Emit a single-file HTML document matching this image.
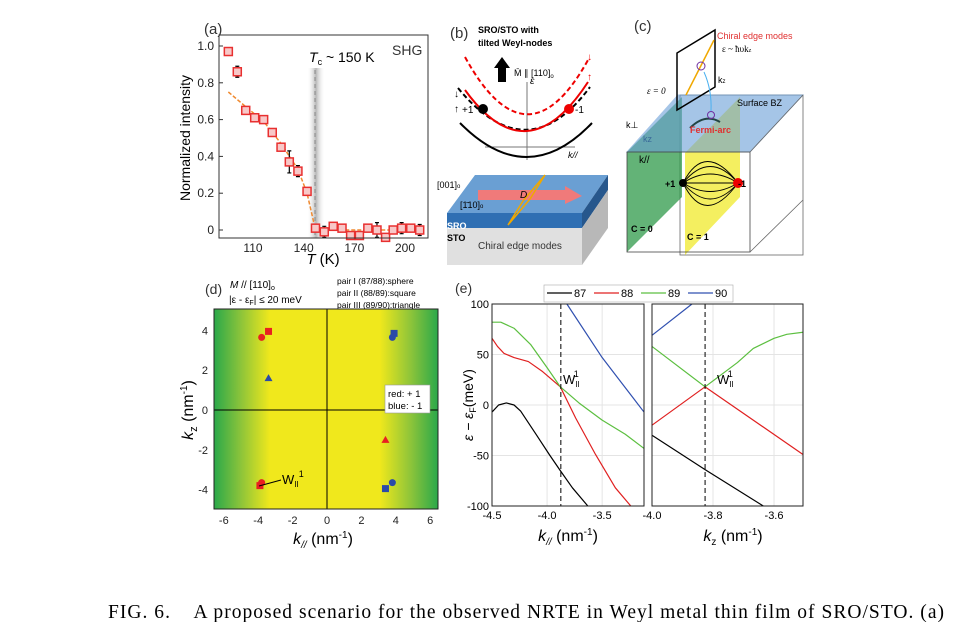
<!DOCTYPE html>
<html><head><meta charset="utf-8"><style>
body{margin:0;background:#fff;}
svg{display:block;font-family:"Liberation Sans",Arial,sans-serif;}
.serif{font-family:"Liberation Serif","DejaVu Serif",serif;}
</style></head><body>
<svg id="fig" width="966" height="622" viewBox="0 0 966 622" xmlns="http://www.w3.org/2000/svg">
<defs>
<linearGradient id="dgrad" x1="0" x2="1" y1="0" y2="0">
<stop offset="0" stop-color="#2aa84a"/><stop offset="0.12" stop-color="#8cc43a"/><stop offset="0.25" stop-color="#f0e81c"/>
<stop offset="0.74" stop-color="#f0e81c"/><stop offset="0.88" stop-color="#8cc43a"/><stop offset="1" stop-color="#2aa84a"/>
</linearGradient>
<linearGradient id="tcband" x1="0" x2="1"><stop offset="0" stop-color="#fff" stop-opacity="0"/><stop offset="0.5" stop-color="#999" stop-opacity="0.7"/><stop offset="1" stop-color="#fff" stop-opacity="0"/></linearGradient>
</defs>

<!-- Panel a -->
<g>
<text x="204" y="34" font-size="15" fill="#333">(a)</text>
<rect x="307" y="68" width="18" height="170" fill="url(#tcband)"/>
<line x1="315" y1="70" x2="315" y2="238" stroke="#888" stroke-dasharray="4,3"/>
<g id="aMarks"></g>
<rect x="219" y="35" width="209" height="203" fill="none" stroke="#333" stroke-width="1"/>
<g id="aTicks" font-size="12" fill="#222"></g>
<text x="190" y="138" font-size="14" text-anchor="middle" transform="rotate(-90 190 138)">Normalized intensity</text>
<text x="323" y="264" font-size="15" text-anchor="middle"><tspan font-style="italic">T</tspan> (K)</text>
<text x="392" y="55" font-size="14" fill="#333">SHG</text>
<text x="309" y="62" font-size="14"><tspan font-style="italic">T</tspan><tspan font-size="9" dy="3">c</tspan><tspan dy="-3"> ~ 150 K</tspan></text>
</g>

<!-- Panel b -->
<g>
<text x="450" y="38" font-size="15" fill="#333">(b)</text>
<text x="478" y="33" font-size="9" font-weight="bold">SRO/STO with</text>
<text x="478" y="46" font-size="9" font-weight="bold">tilted Weyl-nodes</text>
<path d="M498 82 L498 68 L494 68 L502 57 L510 68 L506 68 L506 82 Z" fill="#000"/>
<text x="514" y="76" font-size="9">M̄ ∥ [110]<tspan font-size="6" dy="2">o</tspan></text>
<line x1="527" y1="160" x2="527" y2="82" stroke="#777"/>
<line x1="485" y1="147" x2="575" y2="147" stroke="#777"/>
<text x="530" y="84" font-size="10" font-style="italic">ε</text>
<text x="568" y="158" font-size="9" font-style="italic">k//</text>
<path d="M465 57 Q527 170 588 60" fill="none" stroke="#e00" stroke-width="2" stroke-dasharray="5,3"/>
<path d="M458 88 Q527 172 590 87" fill="none" stroke="#000" stroke-width="2" stroke-dasharray="5,3"/>
<path d="M465 90 Q527 176 588 82" fill="none" stroke="#e00" stroke-width="2"/>
<path d="M460 123 Q527 191 592 123" fill="none" stroke="#000" stroke-width="2"/>
<circle cx="483" cy="109" r="5" fill="#000"/>
<circle cx="569" cy="109" r="5" fill="#e00"/>
<text x="462" y="113" font-size="10">+1</text>
<text x="575" y="113" font-size="10">-1</text>
<text x="454" y="97" font-size="10">↓</text>
<text x="454" y="112" font-size="10">↑</text>
<text x="587" y="60" font-size="10" fill="#e00">↓</text>
<text x="587" y="80" font-size="10" fill="#e00">↑</text>
<polygon points="447,213 475,175 608,175 582,213" fill="#6a9fd3"/>
<polygon points="447,213 582,213 582,228 447,228" fill="#2f6fb3"/>
<polygon points="582,213 608,175 608,190 582,228" fill="#27578c"/>
<polygon points="447,228 582,228 582,265 447,265" fill="#e0e0e0"/>
<polygon points="582,228 608,190 608,228 582,265" fill="#b8b8b8"/>
<polygon points="478,190 565,190 565,186 582,196 565,204 565,200 478,200" fill="#f07a7a"/>
<polygon points="508,225 530,199 545,175 523,201" fill="none" stroke="#f0a800" stroke-width="1.5"/>
<text x="520" y="198" font-size="10" font-style="italic">D</text>
<text x="437" y="188" font-size="9">[001]<tspan font-size="6">o</tspan></text>
<text x="460" y="208" font-size="9">[1̄10]<tspan font-size="6">o</tspan></text>
<text x="447" y="229" font-size="9" font-weight="bold" fill="#fff">SRO</text>
<text x="447" y="241" font-size="9" font-weight="bold">STO</text>
<text x="478" y="249" font-size="10" fill="#333">Chiral edge modes</text>
</g>

<!-- Panel c -->
<g>
<text x="634" y="31" font-size="15" fill="#333">(c)</text>
<rect x="680" y="95" width="123" height="160" fill="none" stroke="#666" stroke-width="0.8"/>
<polygon points="627,152 682,97 682,197 627,252" fill="#2f9a4a" opacity="0.75"/>
<polygon points="685,153 740,97 740,197 685,255" fill="#f0e81c" opacity="0.7"/>
<polygon points="627,152 678,95 803,95 750,152" fill="#6b9fd8" opacity="0.6" stroke="#6b9fd8"/>
<rect x="627" y="152" width="123" height="100" fill="none" stroke="#444" stroke-width="0.8"/>
<line x1="750" y1="252" x2="803" y2="200" stroke="#666" stroke-width="0.8"/>
<line x1="750" y1="152" x2="803" y2="95" stroke="#666" stroke-width="0.8"/>
<g stroke="#000" stroke-width="0.9" fill="none">
<path d="M683 183 Q705 140 738 183"/><path d="M683 183 Q710 150 738 183"/><path d="M683 183 Q710 165 738 183"/><path d="M683 183 L738 183"/><path d="M683 183 Q710 200 738 183"/><path d="M683 183 Q710 215 738 183"/><path d="M683 183 Q705 228 738 183"/>
</g>
<circle cx="683" cy="183" r="4" fill="#000"/>
<circle cx="738" cy="183" r="5" fill="#e00"/>
<text x="665" y="187" font-size="9" font-weight="bold">+1</text>
<text x="738" y="187" font-size="9" font-weight="bold">-1</text>
<polygon points="677,110 677,53 715,30 715,87" fill="none" stroke="#000" stroke-width="1.5"/>
<line x1="686" y1="95" x2="714" y2="40" stroke="#f0a800" stroke-width="1.5"/>
<circle cx="701" cy="66" r="4" fill="none" stroke="#7030a0"/>
<path d="M690 128 Q705 113 720 122" fill="none" stroke="#244" stroke-width="2"/>
<circle cx="711" cy="115" r="3.5" fill="none" stroke="#7030a0"/>
<path d="M711 111 Q712 90 704 72" fill="none" stroke="#4ab0f0"/>
<text x="717" y="39" font-size="9" fill="#e03030">Chiral edge  modes</text>
<text x="722" y="52" font-size="9" class="serif">ε ~ ħυk<tspan font-size="6">z</tspan></text>
<text x="647" y="94" font-size="9" font-style="italic" class="serif">ε = 0</text>
<text x="718" y="83" font-size="9">k<tspan font-size="6">z</tspan></text>
<text x="737" y="106" font-size="9">Surface BZ</text>
<text x="690" y="133" font-size="9" font-weight="bold" fill="#e03030">Fermi-arc</text>
<text x="626" y="128" font-size="9">k⊥</text>
<text x="643" y="142" font-size="9" fill="#3a6a9a">kz</text>
<text x="639" y="163" font-size="10">k//</text>
<text x="631" y="232" font-size="9" font-weight="bold">C = 0</text>
<text x="687" y="240" font-size="9" font-weight="bold">C = 1</text>
</g>

<!-- Panel d -->
<g>
<text x="205" y="294" font-size="14" fill="#333">(d)</text>
<text x="230" y="288" font-size="10"><tspan font-style="italic">M</tspan> // [110]<tspan font-size="7" dy="2">o</tspan></text>
<text x="229" y="303" font-size="10">|ε - ε<tspan font-size="7" dy="2">F</tspan><tspan dy="-2">| ≤ 20 meV</tspan></text>
<text x="337" y="284" font-size="8.5">pair I (87/88):sphere</text>
<text x="337" y="296" font-size="8.5">pair II (88/89):square</text>
<text x="337" y="308" font-size="8.5">pair III (89/90):triangle</text>
<rect x="214" y="309" width="224" height="200" fill="url(#dgrad)"/>
<line x1="214" y1="410" x2="438" y2="410" stroke="#000"/>
<line x1="327" y1="309" x2="327" y2="509" stroke="#000"/>
<g id="dMarks"></g>
<rect x="214" y="309" width="224" height="200" fill="none" stroke="#222"/>
<g id="dTicks" font-size="11" fill="#222"></g>
<rect x="385" y="385" width="45" height="28" fill="#fff" stroke="#999" stroke-width="0.6"/>
<text x="388" y="397" font-size="9.5">red: + 1</text>
<text x="388" y="409" font-size="9.5">blue: - 1</text>
<line x1="259" y1="486" x2="281" y2="480" stroke="#000"/>
<text x="282" y="484" font-size="13">W<tspan font-size="8" dy="3">II</tspan><tspan font-size="9" dy="-10">1</tspan></text>
<text x="193" y="410" font-size="16" text-anchor="middle" transform="rotate(-90 193 410)"><tspan font-style="italic">k</tspan><tspan font-size="11" dy="4">z</tspan><tspan dy="-4"> (nm</tspan><tspan font-size="10" dy="-6">-1</tspan><tspan dy="6">)</tspan></text>
<text x="323" y="544" font-size="16" text-anchor="middle"><tspan font-style="italic">k</tspan><tspan font-size="10" dy="4" font-style="italic">//</tspan><tspan dy="-4"> (nm</tspan><tspan font-size="10" dy="-6">-1</tspan><tspan dy="6">)</tspan></text>
</g>

<!-- Panel e -->
<g>
<text x="455" y="293" font-size="14" fill="#333">(e)</text>
<rect x="544" y="285" width="189" height="17" fill="#fff" stroke="#aaa" stroke-width="0.6"/>
<g id="eLegend" font-size="11"></g>
<g id="eLeft"></g>
<g id="eRight"></g>
<text x="473" y="405" font-size="14" text-anchor="middle" transform="rotate(-90 473 405)"><tspan font-style="italic">ε − ε</tspan><tspan font-size="9" dy="3">F</tspan><tspan dy="-3">(meV)</tspan></text>
<text x="568" y="541" font-size="16" text-anchor="middle"><tspan font-style="italic">k</tspan><tspan font-size="10" dy="4" font-style="italic">//</tspan><tspan dy="-4"> (nm</tspan><tspan font-size="10" dy="-6">-1</tspan><tspan dy="6">)</tspan></text>
<text x="733" y="541" font-size="16" text-anchor="middle"><tspan font-style="italic">k</tspan><tspan font-size="10" dy="4">z</tspan><tspan dy="-4"> (nm</tspan><tspan font-size="10" dy="-6">-1</tspan><tspan dy="6">)</tspan></text>
</g>

<text x="108" y="618" font-size="19.5" class="serif" xml:space="preserve" textLength="836" lengthAdjust="spacing">FIG. 6.    A proposed scenario for the observed NRTE in Weyl metal thin film of SRO/STO. (a)</text>
</svg>

<script>
// ---- Panel a data ----
const aTemps = [95.4,100.7,105.7,111,116.3,121.4,126.6,131.5,136.6,142,147,152.2,157.5,162.7,167.8,173,178,183.4,188.5,193,198,203.4,208.7];
const aValues = [0.97,0.86,0.65,0.61,0.60,0.53,0.45,0.37,0.32,0.21,0.01,-0.01,0.02,0.01,-0.03,-0.03,0.01,0.00,-0.04,0.00,0.01,0.01,0.00];
const aErrors = [0.01,0.03,0.02,0.02,0.01,0.02,0.02,0.06,0.03,0.0,0.0,0.03,0.02,0.02,0.02,0.02,0.02,0.04,0.0,0.0,0.03,0.02,0.03];
const aFitT = [95.4,105.7,116.3,126.6,136.6,142,147,160,180,208.7];
const aFitV = [0.75,0.67,0.59,0.47,0.33,0.20,0.0,0.0,0.0,0.0];
const aXTicks = [110,140,170,200];
const aYTicks = [0,0.2,0.4,0.6,0.8,1.0];
const aYLabels = ["0","0.2","0.4","0.6","0.8","1.0"];

// ---- Panel d data ----
const dKpar = [-3.8,-3.4,-3.4,3.4,3.8,3.9,3.8,3.4,-3.8,-3.9];
const dKz = [3.65,3.95,1.6,-1.5,3.65,3.85,-3.65,-3.95,-3.65,-3.8];
const dShape = ["circle","square","triangle","triangle","circle","square","circle","square","circle","square"];
const dCharge = [1,1,-1,1,-1,-1,-1,-1,1,1];
const dXTicks = [-6,-4,-2,0,2,4,6];
const dYTicks = [-4,-2,0,2,4];

// ---- Panel e data ----
const eBands = ["87","88","89","90"];
const eColors = ["#000","#e02020","#5cbf40","#3050b0"];
const eLeftK87 = [-4.5,-4.44,-4.37,-4.3,-4.24,-4.1,-3.98,-3.88,-3.77,-3.63];
const eLeftE87 = [-7,0,2,0,-6,-29,-49,-65,-82,-100];
const eLeftK88 = [-4.5,-4.45,-4.39,-4.3,-4.17,-4.04,-3.88,-3.74,-3.56,-3.38,-3.24];
const eLeftE88 = [66,58,51,47,43,33,18,-13,-49,-82,-100];
const eLeftK89 = [-4.5,-4.42,-4.3,-4.15,-4.0,-3.88,-3.71,-3.5,-3.29,-3.12];
const eLeftE89 = [82,82,76,60,37,18,2,-15,-29,-43];
const eLeftK90 = [-3.82,-3.5,-3.12];
const eLeftE90 = [100,47,-7];
const eRightK87 = [-4.0,-3.826,-3.635];
const eRightE87 = [-30,-64,-100];
const eRightK88 = [-4.0,-3.826,-3.505];
const eRightE88 = [-20,18,-49];
const eRightK89 = [-4.0,-3.826,-3.72,-3.668,-3.6,-3.558,-3.505];
const eRightE89 = [58,18,42,56,66,70,72];
const eRightK90 = [-4.0,-3.869];
const eRightE90 = [69,100];
const eLeftXTicks = [-4.5,-4.0,-3.5];
const eLeftXLabels = ["-4.5","-4.0","-3.5"];
const eRightXTicks = [-4.0,-3.8,-3.6];
const eRightXLabels = ["-4.0","-3.8","-3.6"];
const eYTicks = [-100,-50,0,50,100];
const eWeylLeft = -3.875;
const eWeylRight = -3.826;

const NS = "http://www.w3.org/2000/svg";
function mk(tag, attrs, parent){const e=document.createElementNS(NS,tag);for(const k in attrs)e.setAttribute(k,attrs[k]);parent.appendChild(e);return e;}

// Panel a axes
const ax = t => 253 + (t-110)*1.689;
const ay = v => 230 - 184*v;
const aM = document.getElementById('aMarks');
const aT = document.getElementById('aTicks');
aYTicks.forEach((v,i)=>{
  const t=mk('text',{x:214,y:ay(v)+4,'text-anchor':'end'},aT);t.textContent=aYLabels[i];
  
  
  const l=mk('line',{x1:219,x2:223,y1:ay(v),y2:ay(v),stroke:'#333'},aT);
  
  
});
aXTicks.forEach(v=>{
  const t=mk('text',{x:ax(v),y:252,'text-anchor':'middle'},aT);t.textContent=v;
  
  
});
{
  const p=mk('polyline',{points:aFitT.map((t,i)=>ax(t)+','+ay(aFitV[i])).join(' '),fill:'none',stroke:'#f08a30','stroke-width':1.5,'stroke-dasharray':'4,2'},aM);
  
  
}
aTemps.forEach((t,i)=>{
  const x=ax(t),y=ay(aValues[i]),e=aErrors[i]*184;
  if(e>0){
    const l=mk('path',{d:`M${x} ${y-e}V${y+e}M${x-2} ${y-e}H${x+2}M${x-2} ${y+e}H${x+2}`,stroke:'#000','stroke-width':1.2,fill:'none'},aM);
    
    
  }
  const r=mk('rect',{x:x-4,y:y-4,width:8,height:8,fill:'#f8c8c8',stroke:'#e83030','stroke-width':1.5},aM);
  
  
});

// Panel d
const dx = k => 327 + k*17.2;
const dy = k => 410 - k*19.9;
const dM=document.getElementById('dMarks'), dT=document.getElementById('dTicks');
dXTicks.forEach(v=>{
  const t=mk('text',{x:dx(v),y:524,'text-anchor':'middle'},dT);t.textContent=v;
  
  
});
dYTicks.forEach(v=>{
  const t=mk('text',{x:208,y:dy(v)+4,'text-anchor':'end'},dT);t.textContent=v;
  
  
});
dKpar.forEach((k,i)=>{
  const x=dx(k),y=dy(dKz[i]),c=dCharge[i]>0?'#e82020':'#2a4aa8';let m;
  if(dShape[i]==='circle')m=mk('circle',{cx:x,cy:y,r:3.5,fill:c},dM);
  else if(dShape[i]==='square')m=mk('rect',{x:x-3.5,y:y-3.5,width:7,height:7,fill:c},dM);
  else m=mk('polygon',{points:`${x},${y-4} ${x+4},${y+3} ${x-4},${y+3}`,fill:c},dM);
  
  
});

// Panel e
function panelE(g, x0, x1, kmin, kmax, ticks, labels, weyl, sets, showY, wlabelX){
  const sx=k=>x0+(k-kmin)/(kmax-kmin)*(x1-x0);
  const sy=e=>405-e*1.01;
  const G=document.getElementById(g);
  ticks.forEach((v,i)=>{
    const l=mk('line',{x1:sx(v),x2:sx(v),y1:304,y2:506,stroke:'#e4e4e4'},G);
    
    
    const t=mk('text',{x:sx(v),y:519,'text-anchor':'middle','font-size':11},G);t.textContent=labels[i];
    
    
  });
  eYTicks.forEach(v=>{
    const l=mk('line',{x1:x0,x2:x1,y1:sy(v),y2:sy(v),stroke:'#e4e4e4'},G);
    
    
    if(showY){
      const t=mk('text',{x:x0-3,y:sy(v)+4,'text-anchor':'end','font-size':11},G);t.textContent=v;
      
      
    }
  });
  sets.forEach((s,i)=>{
    const p=mk('polyline',{points:s[0].map((k,j)=>sx(k)+','+sy(s[1][j])).join(' '),fill:'none',stroke:eColors[i],'stroke-width':1.2,'stroke-linejoin':'round'},G);
    
    
  });
  const w=mk('line',{x1:sx(weyl),x2:sx(weyl),y1:304,y2:506,stroke:'#000','stroke-dasharray':'5,3'},G);
  
  
  const wt=mk('text',{x:wlabelX,y:384,'font-size':13},G);
  
  
  wt.innerHTML='W<tspan font-size="8" dy="3">II</tspan><tspan font-size="9" dy="-10" dx="-6">1</tspan>';
  const f=mk('rect',{x:x0,y:304,width:x1-x0,height:202,fill:'none',stroke:'#222'},G);
  
  
}
panelE('eLeft',492,644,-4.5,-3.12,eLeftXTicks,eLeftXLabels,eWeylLeft,
 [[eLeftK87,eLeftE87],[eLeftK88,eLeftE88],[eLeftK89,eLeftE89],[eLeftK90,eLeftE90]],true,563);
panelE('eRight',652,803,-4.0,-3.505,eRightXTicks,eRightXLabels,eWeylRight,
 [[eRightK87,eRightE87],[eRightK88,eRightE88],[eRightK89,eRightE89],[eRightK90,eRightE90]],false,717);

const eL=document.getElementById('eLegend');
eBands.forEach((b,i)=>{
  const x=547+i*47;
  const l=mk('line',{x1:x,x2:x+25,y1:293,y2:293,stroke:eColors[i],'stroke-width':1.2},eL);
  
  
  const t=mk('text',{x:x+27,y:297},eL);t.textContent=b;
  
  
});
</script>
</body></html>
